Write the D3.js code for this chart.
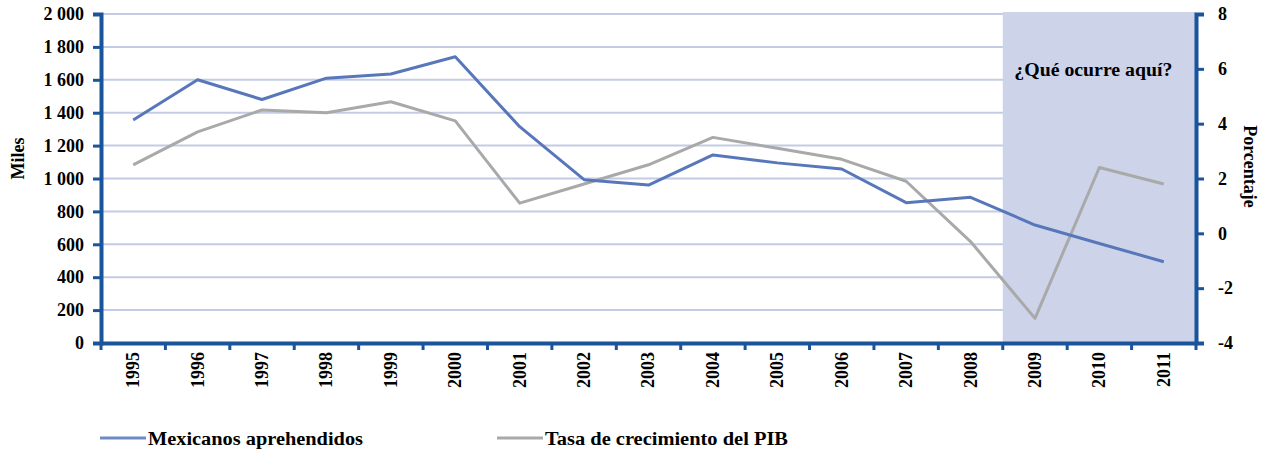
<!DOCTYPE html>
<html>
<head>
<meta charset="utf-8">
<script src="https://cdn.jsdelivr.net/npm/d3@7"></script>
<style>
  html, body { margin: 0; padding: 0; background: #fff; }
  svg text { font-family: "Liberation Serif", "Times New Roman", Times, serif; font-weight: bold; fill: #000; }
</style>
</head>
<body>
<svg id="chart" width="1264" height="453"></svg>
<script>
// Years on the category axis
const years = ["1995","1996","1997","1998","1999","2000","2001","2002","2003","2004","2005","2006","2007","2008","2009","2010","2011"];
// Mexicans apprehended (thousands) — left axis
const aprehendidos = [1355, 1600, 1480, 1610, 1635, 1740, 1315, 993, 960, 1143, 1095, 1058, 853, 886, 717, 605, 494];
// GDP growth rate (%) — right axis
const pib = [2.5, 3.7, 4.5, 4.4, 4.8, 4.1, 1.1, 1.8, 2.5, 3.5, 3.1, 2.7, 1.9, -0.3, -3.1, 2.4, 1.8];
// Axis ticks
const leftTicks = [0, 200, 400, 600, 800, 1000, 1200, 1400, 1600, 1800, 2000];
const rightTicks = [-4, -2, 0, 2, 4, 6, 8];
// Highlighted period
const shadedYears = ["2009", "2010", "2011"];
const seriesNames = ["Mexicanos aprehendidos", "Tasa de crecimiento del PIB"];
const annotation = "¿Qué ocurre aquí?";

const W = 1264, H = 453;
const margin = { top: 14, right: 68, bottom: 110, left: 101 };
const axisColor = "#1a559c";
const gridColor = "#c3cce4";
const blue = "#5877bb";
const gray = "#a9a9a9";
const serif = "'Liberation Serif', 'Times New Roman', serif";

const svg = d3.select("#chart");
const x = d3.scaleBand().domain(years).range([margin.left, W - margin.right]).padding(0);
const yL = d3.scaleLinear().domain([0, 2000]).range([H - margin.bottom, margin.top]);
const yR = d3.scaleLinear().domain([-4, 8]).range([H - margin.bottom, margin.top]);

// Spanish-style grouping with a space, plain hyphen for negatives
const loc = d3.formatLocale({ decimal: ",", thousands: " ", grouping: [3], currency: ["", ""], minus: "-" });
const fmt = loc.format(",d");
const fmtR = loc.format("d");

// Horizontal gridlines
svg.append("g")
  .selectAll("line")
  .data(leftTicks.filter(d => d > 0))
  .join("line")
  .attr("x1", margin.left)
  .attr("x2", W - margin.right)
  .attr("y1", d => yL(d))
  .attr("y2", d => yL(d))
  .attr("stroke", gridColor)
  .attr("stroke-width", 2);

// Shaded period
const shadeX0 = x(shadedYears[0]);
const shadeX1 = x(shadedYears[shadedYears.length - 1]) + x.bandwidth();
svg.append("rect")
  .attr("x", shadeX0)
  .attr("y", yL(2000) - 2)
  .attr("width", shadeX1 - shadeX0)
  .attr("height", yL(0) - yL(2000) + 2)
  .attr("fill", "#cdd4ea");

svg.append("text")
  .attr("x", (shadeX0 + shadeX1) / 2 - 6)
  .attr("y", yR(6) + 7)
  .attr("text-anchor", "middle")
  .attr("font-size", 18)
  .attr("textLength", 158)
  .attr("lengthAdjust", "spacingAndGlyphs")
  .text(annotation);

// Lines
const cx = d => x(d) + x.bandwidth() / 2;
const lineL = d3.line().x((d, i) => cx(years[i])).y(d => yL(d));
const lineR = d3.line().x((d, i) => cx(years[i])).y(d => yR(d));

svg.append("path").datum(pib)
  .attr("d", lineR).attr("fill", "none")
  .attr("stroke", gray).attr("stroke-width", 3).attr("stroke-linejoin", "round");
svg.append("path").datum(aprehendidos)
  .attr("d", lineL).attr("fill", "none")
  .attr("stroke", blue).attr("stroke-width", 3).attr("stroke-linejoin", "round");

// Left axis
const gL = svg.append("g").attr("transform", `translate(${margin.left},0)`)
  .call(d3.axisLeft(yL).tickValues(leftTicks).tickFormat(fmt).tickSize(8).tickPadding(9))
  .attr("font-family", serif);
gL.select(".domain").attr("stroke", axisColor).attr("stroke-width", 4);
gL.selectAll(".tick line").attr("stroke", axisColor).attr("stroke-width", 3);
gL.selectAll(".tick text").attr("font-size", 18).attr("fill", "#000");

// Right axis
const gR = svg.append("g").attr("transform", `translate(${W - margin.right},0)`)
  .call(d3.axisRight(yR).tickValues(rightTicks).tickFormat(fmtR).tickSize(8).tickPadding(14))
  .attr("font-family", serif);
gR.select(".domain").attr("stroke", axisColor).attr("stroke-width", 4);
gR.selectAll(".tick line").attr("stroke", axisColor).attr("stroke-width", 3);
gR.selectAll(".tick text").attr("font-size", 18).attr("fill", "#000");

// Bottom axis: labels centred in each band, ticks between categories
const gB = svg.append("g").attr("transform", `translate(0,${H - margin.bottom})`)
  .call(d3.axisBottom(x).tickSize(0).tickPadding(0))
  .attr("font-family", serif);
gB.select(".domain").attr("stroke", axisColor).attr("stroke-width", 4);
gB.selectAll(".tick text")
  .attr("font-size", 18).attr("fill", "#000")
  .attr("text-anchor", "end")
  .attr("transform", "rotate(-90)")
  .attr("x", -9).attr("y", 0).attr("dy", "0.33em").attr("dx", 0);
gB.append("g").selectAll("line")
  .data(years.concat(["end"]))
  .join("line")
  .attr("x1", (d, i) => i < years.length ? x(d) : x.range()[1])
  .attr("x2", (d, i) => i < years.length ? x(d) : x.range()[1])
  .attr("y1", 0).attr("y2", 7)
  .attr("stroke", axisColor).attr("stroke-width", 3);

// Axis titles
svg.append("text")
  .attr("transform", `translate(24,${(yL(0) + yL(2000)) / 2 - 20}) rotate(-90)`)
  .attr("text-anchor", "middle").attr("font-size", 18)
  .text("Miles");
svg.append("text")
  .attr("transform", `translate(1244,${(yR(-4) + yR(8)) / 2 - 12}) rotate(90)`)
  .attr("text-anchor", "middle").attr("font-size", 18)
  .text("Porcentaje");

// Legend
const legend = [
  { name: seriesNames[0], color: "#6f8bc6", x: 100, len: 215 },
  { name: seriesNames[1], color: gray, x: 497, len: 243 }
];
const lg = svg.append("g").selectAll("g").data(legend).join("g")
  .attr("transform", d => `translate(${d.x},438)`);
lg.append("line").attr("x1", 0).attr("x2", 46).attr("y1", 0).attr("y2", 0)
  .attr("stroke", d => d.color).attr("stroke-width", 3);
lg.append("text").attr("x", 48).attr("y", 7).attr("font-size", 18)
  .attr("textLength", d => d.len).attr("lengthAdjust", "spacingAndGlyphs")
  .text(d => d.name);
</script>
</body>
</html>
